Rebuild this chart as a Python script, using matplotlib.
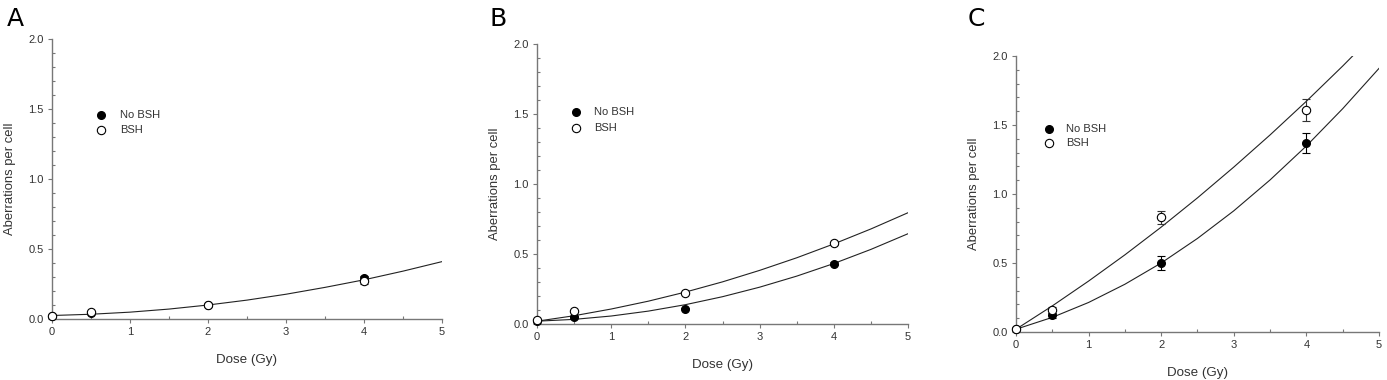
import matplotlib
matplotlib.use("Agg")
import matplotlib.pyplot as plt
from matplotlib.ticker import MultipleLocator, FormatStrFormatter

plt.rcParams['font.family'] = ['Liberation Sans', 'DejaVu Sans']

# measured points (dose in Gy, aberrations per cell, error)
dose = [0, 0.5, 2, 4]

a_nobsh = [0.025, 0.04, 0.10, 0.29]
a_nobsh_err = [0.005, 0.005, 0.005, 0.02]
a_bsh = [0.025, 0.05, 0.10, 0.27]
a_bsh_err = [0.005, 0.005, 0.005, 0.02]

b_nobsh = [0.02, 0.05, 0.11, 0.43]
b_nobsh_err = [0.005, 0.005, 0.005, 0.01]
b_bsh = [0.025, 0.09, 0.22, 0.575]
b_bsh_err = [0.005, 0.005, 0.005, 0.01]

c_nobsh = [0.02, 0.12, 0.50, 1.37]
c_nobsh_err = [0.005, 0.02, 0.05, 0.07]
c_bsh = [0.02, 0.16, 0.83, 1.61]
c_bsh_err = [0.005, 0.02, 0.05, 0.08]

# fitted curves
curve_dose = [0, 0.5, 1, 1.5, 2, 2.5, 3, 3.5, 4, 4.5, 5]
a_fit = [0.025, 0.034, 0.049, 0.071, 0.100, 0.135, 0.177, 0.226, 0.280, 0.342, 0.410]
b_fit_nobsh = [0.02, 0.033, 0.057, 0.092, 0.138, 0.195, 0.263, 0.342, 0.432, 0.533, 0.645]
b_fit_bsh = [0.02, 0.059, 0.107, 0.163, 0.228, 0.301, 0.383, 0.473, 0.572, 0.679, 0.795]
c_fit_nobsh = [0.02, 0.106, 0.214, 0.346, 0.50, 0.678, 0.878, 1.102, 1.348, 1.618, 1.91]
c_fit_bsh = [0.02, 0.189, 0.369, 0.559, 0.760, 0.972, 1.195, 1.428, 1.672, 1.927, 2.193]

panels = [
    ("A", [0.0375, 0.1605, 0.2812, 0.7368], a_nobsh, a_nobsh_err, a_bsh, a_bsh_err,
     [a_fit], (0.63, 1.457, 1.35), 7),
    ("B", [0.3872, 0.1474, 0.2675, 0.7368], b_nobsh, b_nobsh_err, b_bsh, b_bsh_err,
     [b_fit_nobsh, b_fit_bsh], (0.53, 1.514, 1.40), 489),
    ("C", [0.7325, 0.1263, 0.2617, 0.7263], c_nobsh, c_nobsh_err, c_bsh, c_bsh_err,
     [c_fit_nobsh, c_fit_bsh], (0.45, 1.471, 1.37), 968),
]

fig = plt.figure(figsize=(13.87, 3.8), dpi=100)
axcol = '#777777'
txtcol = '#333333'

for letter, rect, nob, nobe, bsh, bshe, fits, leg, lx in panels:
    ax = fig.add_axes(rect)
    for f in fits:
        ax.plot(curve_dose, f, color='#222222', lw=0.8, zorder=2)
    ax.errorbar(dose, nob, yerr=nobe, fmt='o', color='black', ms=5.5, capsize=3,
                elinewidth=0.8, capthick=0.8, clip_on=False, zorder=3)
    ax.errorbar(dose, bsh, yerr=bshe, fmt='o', mfc='white', mec='black', color='#333333',
                ms=6, mew=0.8, capsize=3, elinewidth=0.8, capthick=0.8,
                clip_on=False, zorder=4)

    # legend drawn in data space
    x0, y1, y2 = leg
    ax.plot([x0], [y1], 'o', color='black', ms=5.5)
    ax.plot([x0], [y2], 'o', mfc='white', mec='black', ms=6, mew=0.8)
    ax.text(x0 + 0.24, y1, "No BSH", fontsize=8, va='center', color=txtcol)
    ax.text(x0 + 0.24, y2, "BSH", fontsize=8, va='center', color=txtcol)

    ax.set_xlim(0, 5)
    ax.set_ylim(0, 2)
    ax.xaxis.set_major_locator(MultipleLocator(1))
    ax.xaxis.set_minor_locator(MultipleLocator(0.5))
    ax.yaxis.set_major_locator(MultipleLocator(0.5))
    ax.yaxis.set_minor_locator(MultipleLocator(0.1))
    ax.yaxis.set_major_formatter(FormatStrFormatter('%.1f'))
    for s in ['top', 'right']:
        ax.spines[s].set_visible(False)
    for s in ['left', 'bottom']:
        ax.spines[s].set_color(axcol)
        ax.spines[s].set_linewidth(1.0)
    ax.tick_params(which='major', direction='out', length=3, width=0.8,
                   color=axcol, labelsize=8, labelcolor=txtcol, pad=3)
    ax.tick_params(which='minor', direction='in', length=2.5, width=0.8, color=axcol)
    ax.set_xlabel("Dose (Gy)", fontsize=9.6, color=txtcol, labelpad=12)
    ax.set_ylabel("Aberrations per cell", fontsize=9.4, color=txtcol, labelpad=9)

    fig.text(lx / 1387, 1 - 26 / 380, letter, fontsize=18, color='black',
             family=['DejaVu Sans'])

fig.savefig("out.png", dpi=100, facecolor='white')
